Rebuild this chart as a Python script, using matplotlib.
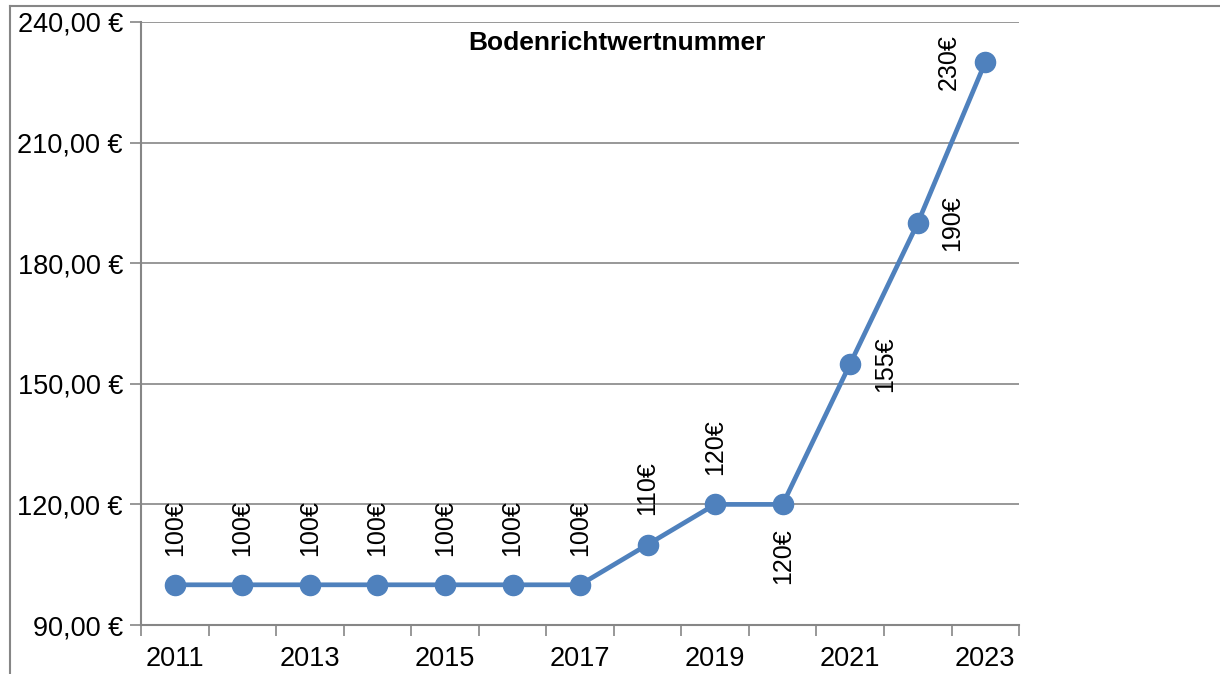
import matplotlib.pyplot as plt
from matplotlib.lines import Line2D

plt.rcParams['font.family'] = ['Liberation Sans', 'DejaVu Sans']

# Data
years = ['2011', '2012', '2013', '2014', '2015', '2016', '2017',
         '2018', '2019', '2020', '2021', '2022', '2023']
values = [100, 100, 100, 100, 100, 100, 100, 110, 120, 120, 155, 190, 230]
labels = ['100€', '100€', '100€', '100€', '100€', '100€', '100€',
          '110€', '120€', '120€', '155€', '190€', '230€']
# where each data label sits relative to its point
label_pos = ['above'] * 9 + ['below', 'right', 'right', 'left']
yticks = [90, 120, 150, 180, 210, 240]

blue = '#4F81BD'
gray = '#868686'

fig = plt.figure(figsize=(12.2, 6.74), dpi=100)
ax = fig.add_axes([0.1156, 0.0727, 0.7197, 0.8947])

x = list(range(len(years)))
ax.plot(x, values, color=blue, linewidth=3.4, marker='o', markersize=14.5,
        markerfacecolor=blue, markeredgecolor=blue, zorder=3, clip_on=False)

offsets = {'above': (0, 21, 'center', 'bottom'),
           'below': (0, -17, 'center', 'top'),
           'right': (25, 0, 'center', 'center'),
           'left': (-26, 0, 'center', 'center')}
for xi, v, lab, pos in zip(x, values, labels, label_pos):
    dx, dy, ha, va = offsets[pos]
    ax.annotate(lab, (xi, v), xytext=(dx, dy), textcoords='offset points',
                rotation=90, ha=ha, va=va, fontsize=18, color='black')

ax.set_xlim(-0.5, len(years) - 0.5)
ax.set_ylim(90, 240)
ax.set_yticks(yticks)
ax.set_yticklabels([f'{t},00 €' for t in yticks])
ax.yaxis.grid(True, color=gray, linewidth=1.2)
ax.set_axisbelow(True)

# category labels every other year, tick marks between categories
ax.set_xticks(x[::2])
ax.set_xticklabels(years[::2])
ax.set_xticks([i - 0.5 for i in range(len(years) + 1)], minor=True)
ax.tick_params(axis='x', which='major', length=0, pad=15, labelsize=19.5)
ax.tick_params(axis='x', which='minor', length=8, width=1.2, color=gray)
ax.tick_params(axis='y', length=8, width=1.2, color=gray, pad=5, labelsize=19.5)

for side in ['top', 'right']:
    ax.spines[side].set_visible(False)
for side in ['left', 'bottom']:
    ax.spines[side].set_color(gray)
    ax.spines[side].set_linewidth(1.5)

fig.text(617 / 1220, 1 - 43 / 674, 'Bodenrichtwertnummer', ha='center', va='center',
         fontsize=19, fontweight='bold')

# outer chart frame (cut off on the right and bottom)
fig.add_artist(Line2D([10 / 1220, 1], [1 - 5.5 / 674, 1 - 5.5 / 674], color=gray, linewidth=1.5))
fig.add_artist(Line2D([10 / 1220, 10 / 1220], [0, 1 - 5.5 / 674], color=gray, linewidth=1.5))

plt.savefig('out.png', dpi=100)
